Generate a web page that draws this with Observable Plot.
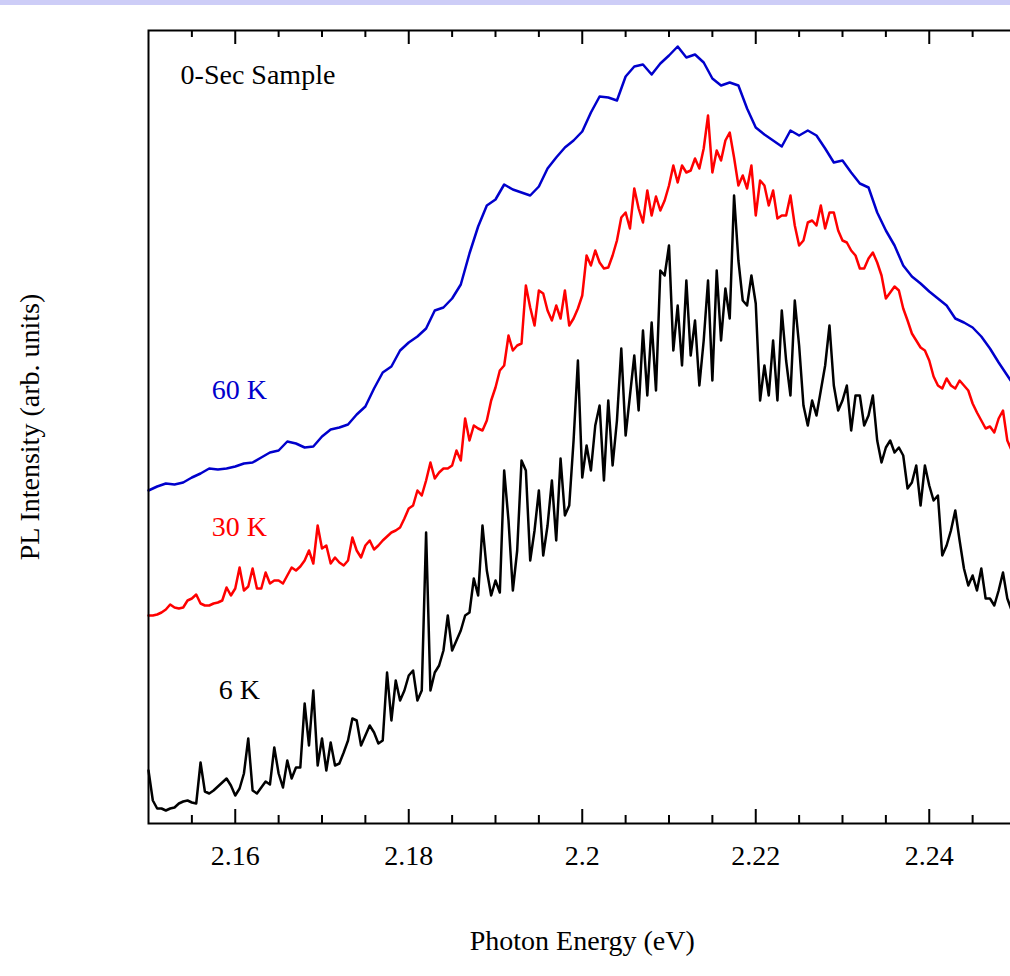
<!DOCTYPE html>
<html><head><meta charset="utf-8">
<script src="https://cdn.jsdelivr.net/npm/d3@7"></script>
<script src="https://cdn.jsdelivr.net/npm/@observablehq/plot@0.6"></script>
<style>
html,body{margin:0;padding:0;background:#fff;overflow:hidden;width:1010px;height:976px;}
#band{position:absolute;left:0;top:0;width:1010px;height:5px;background:#cdcdf7;}
#chart{position:absolute;left:0;top:0;width:1040px;}
#chart svg{max-width:none !important;}
</style></head><body>
<div id="chart"></div><div id="band"></div>
<script>
// Sampling grids (eV)
const start60 = 2.15, step60 = 0.001;
const start30 = 2.15, step30 = 0.0005;
const start6 = 2.15, step6 = 0.0005;

const intensity60 = [
333,337,340,339,341,346,350,355,354,355,
357,360,361,366,371,373,382,380,376,377,
387,394,396,399,409,417,435,451,457,473,
481,487,495,513,516,525,539,570,597,618,
624,639,634,631,628,637,655,666,676,683,
692,711,727,726,723,747,757,759,749,760,
768,777,766,769,761,745,738,741,738,715,
696,689,683,677,693,688,693,688,675,661,
663,651,640,636,611,593,578,558,547,540,
532,525,518,505,501,496,487,475,461,448,
435];

const intensity30 = [
208,208,209,211,214,219,216,215,216,223,
225,229,220,218,218,220,221,223,236,228,
235,256,233,237,255,235,235,251,240,243,
243,240,248,256,253,257,263,273,260,298,
275,278,260,266,261,258,263,286,273,266,
278,283,274,278,283,287,291,293,296,305,
315,318,333,328,343,361,345,351,355,355,
358,373,363,405,383,398,395,393,403,423,
436,453,458,488,473,478,480,538,516,498,
533,530,513,503,518,505,533,498,505,515,
528,568,558,573,561,555,556,568,583,606,
611,595,635,615,601,633,608,627,613,623,
638,658,641,658,651,653,665,655,675,708,
651,673,663,683,691,666,638,648,635,658,
608,643,638,618,633,605,608,608,628,598,
578,583,601,603,598,618,595,611,611,593,
583,581,573,568,555,555,565,571,561,548,
525,531,537,533,515,503,490,483,476,473,
463,447,438,435,445,438,435,443,438,433,
420,411,403,395,397,391,405,413,383,373];

const intensity6 = [
53,23,15,15,13,15,16,20,22,23,
21,20,61,32,30,33,37,41,45,38,
28,35,50,85,33,30,36,42,39,76,
50,36,63,45,56,56,120,78,133,58,
85,53,81,58,60,71,83,105,103,78,
88,98,91,80,83,151,103,143,123,133,
148,153,123,133,291,133,151,158,173,208,
173,183,193,208,211,245,228,298,253,228,
243,231,353,303,233,273,363,353,263,293,
333,268,298,343,283,365,308,318,383,463,
346,378,353,398,418,343,423,358,403,475,
388,428,468,413,493,428,501,433,553,548,
578,473,518,458,543,468,503,438,483,543,
443,553,483,535,505,628,563,523,518,548,
520,423,458,428,483,423,513,463,428,523,
478,418,398,423,408,433,458,498,438,413,
423,438,393,428,428,398,408,428,383,361,
376,383,371,376,368,335,341,358,318,358,
338,323,328,268,278,293,313,283,255,238,
248,233,255,225,225,218,233,251,225,213];

const majorTicks = [2.16, 2.18, 2.2, 2.22, 2.24];
const tickLabels = ["2.16", "2.18", "2.2", "2.22", "2.24"];
const minorTicks = [2.155, 2.165, 2.17, 2.175, 2.185, 2.19, 2.195, 2.205, 2.21, 2.215, 2.225, 2.23, 2.235, 2.245];
const seriesLabels = ["60 K", "30 K", "6 K"];
const seriesColors = ["#0000cc", "#ff0000", "#000000"];

const toRows = (vals, s0, ds) => vals.map((v, i) => ({e: s0 + i * ds, v}));
const rows60 = toRows(intensity60, start60, step60);
const rows30 = toRows(intensity30, start30, step30);
const rows6 = toRows(intensity6, start6, step6);

const H = 976, mT = 30, mB = 153;
const innerH = H - mT - mB;
const font = "'Liberation Serif', 'Times New Roman', serif";
const fs = 28;

const chart = Plot.plot({
  width: 1040, height: H,
  marginLeft: 148, marginRight: 24.5, marginTop: mT, marginBottom: mB,
  style: {fontFamily: font, fontSize: fs + "px", background: "transparent", color: "black", maxWidth: "none"},
  x: {domain: [2.15, 2.25], axis: null},
  y: {domain: [0, 793], axis: null},
  marks: [
    Plot.ruleX(minorTicks, {insetTop: innerH - 8, stroke: "black", strokeWidth: 2}),
    Plot.ruleX(majorTicks, {insetTop: innerH - 14, stroke: "black", strokeWidth: 2}),
    Plot.ruleX(minorTicks, {insetBottom: innerH - 7, stroke: "black", strokeWidth: 2}),
    Plot.ruleX(majorTicks, {insetBottom: innerH - 14, stroke: "black", strokeWidth: 2}),
    Plot.axisX(majorTicks, {tickSize: 0, tickPadding: 22, fontSize: fs,
      tickFormat: d => tickLabels[majorTicks.indexOf(d)], label: null}),
    Plot.line(rows60, {x: "e", y: "v", stroke: seriesColors[0], strokeWidth: 2.5}),
    Plot.line(rows30, {x: "e", y: "v", stroke: seriesColors[1], strokeWidth: 2.5}),
    Plot.line(rows6, {x: "e", y: "v", stroke: seriesColors[2], strokeWidth: 2.5}),
    Plot.frame({stroke: "black", strokeWidth: 2}),
    Plot.text(["0-Sec Sample"], {x: 2.1537, y: 748, textAnchor: "start", fontSize: fs, fill: "black"}),
    Plot.text([seriesLabels[0]], {x: 2.1573, y: 433, textAnchor: "start", fontSize: fs, fill: seriesColors[0]}),
    Plot.text([seriesLabels[1]], {x: 2.1573, y: 296, textAnchor: "start", fontSize: fs, fill: seriesColors[1]}),
    Plot.text([seriesLabels[2]], {x: 2.1581, y: 133, textAnchor: "start", fontSize: fs, fill: seriesColors[2]}),
    Plot.text(["Photon Energy (eV)"], {frameAnchor: "bottom", dy: 126, fontSize: fs, fill: "black"}),
    Plot.text(["PL Intensity (arb. units)"], {frameAnchor: "left", dx: -118, rotate: -90, textAnchor: "middle", fontSize: fs, fill: "black"})
  ]
});
document.getElementById("chart").appendChild(chart);
</script>
</body></html>
